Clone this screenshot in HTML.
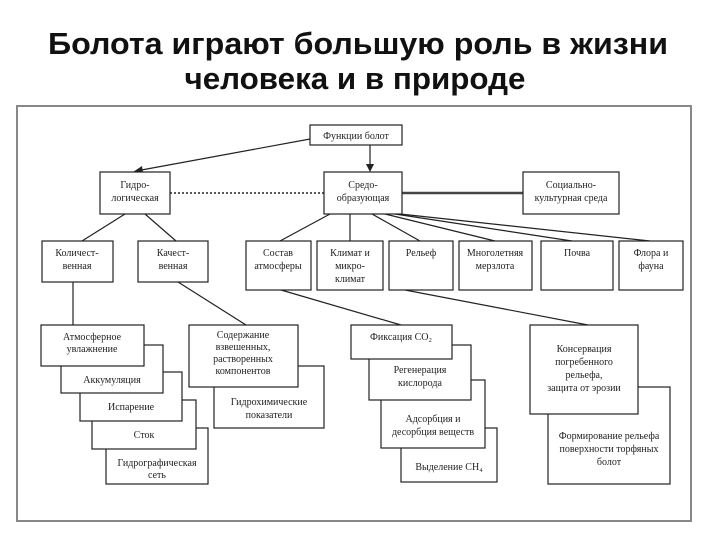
<!DOCTYPE html>
<html><head><meta charset="utf-8"><style>
html,body{margin:0;padding:0;background:#fff;width:720px;height:540px;overflow:hidden}
svg{display:block}
.t{font-family:"Liberation Sans",sans-serif;font-weight:bold;font-size:31px;fill:#111}
.b text{font-family:"Liberation Serif","Noto Serif CJK SC",serif;font-size:10px;fill:#222;text-anchor:middle}
rect{fill:#fff;stroke:#222;stroke-width:1.2}
line{stroke:#222;stroke-width:1.2}
</style></head><body>
<svg width="720" height="540" viewBox="0 0 720 540">
<text class="t" x="358" y="54" text-anchor="middle" textLength="620" lengthAdjust="spacingAndGlyphs">Болота играют большую роль в жизни</text>
<text class="t" x="355" y="89" text-anchor="middle" textLength="341" lengthAdjust="spacingAndGlyphs">человека и в природе</text>
<rect x="17" y="106" width="674" height="415" style="stroke:#888;stroke-width:2;fill:none"/>
<g class="b">
<!-- connectors -->
<line x1="310" y1="139" x2="136" y2="171"/>
<polygon points="133,172 142,166 143,173" fill="#222"/>
<line x1="370" y1="145" x2="370" y2="166"/>
<polygon points="366,164 374,164 370,172" fill="#222"/>
<line x1="170" y1="193" x2="324" y2="193" style="stroke-dasharray:2,2;stroke-width:1.5"/>
<line x1="402" y1="193" x2="523" y2="193" style="stroke-width:2.5;stroke:#444"/>
<line x1="125" y1="214" x2="82" y2="241"/>
<line x1="145" y1="214" x2="176" y2="241"/>
<line x1="330" y1="214" x2="280" y2="241"/>
<line x1="350" y1="214" x2="350" y2="241"/>
<line x1="372" y1="214" x2="420" y2="241"/>
<line x1="385" y1="214" x2="495" y2="241"/>
<line x1="395" y1="214" x2="572" y2="241"/>
<line x1="400" y1="214" x2="650" y2="241"/>
<line x1="73" y1="282" x2="73" y2="325"/>
<line x1="178" y1="282" x2="246" y2="325"/>
<line x1="281" y1="290" x2="401" y2="325"/>
<line x1="405" y1="290" x2="588" y2="325"/>
<!-- top boxes -->
<rect x="310" y="125" width="92" height="20"/><text x="356" y="139">Функции болот</text>
<rect x="100" y="172" width="70" height="42"/><text x="135" y="188">Гидро-</text><text x="135" y="201">логическая</text>
<rect x="324" y="172" width="78" height="42"/><text x="363" y="188">Средо-</text><text x="363" y="201">образующая</text>
<rect x="523" y="172" width="96" height="42"/><text x="571" y="188">Социально-</text><text x="571" y="201">культурная среда</text>
<rect x="42" y="241" width="71" height="41"/><text x="77" y="256">Количест-</text><text x="77" y="269">венная</text>
<rect x="138" y="241" width="70" height="41"/><text x="173" y="256">Качест-</text><text x="173" y="269">венная</text>
<rect x="246" y="241" width="65" height="49"/><text x="278" y="256">Состав</text><text x="278" y="269">атмосферы</text>
<rect x="317" y="241" width="66" height="49"/><text x="350" y="256">Климат и</text><text x="350" y="269">микро-</text><text x="350" y="282">климат</text>
<rect x="389" y="241" width="64" height="49"/><text x="421" y="256">Рельеф</text>
<rect x="459" y="241" width="73" height="49"/><text x="495" y="256">Многолетняя</text><text x="495" y="269">мерзлота</text>
<rect x="541" y="241" width="72" height="49"/><text x="577" y="256">Почва</text>
<rect x="619" y="241" width="64" height="49"/><text x="651" y="256">Флора и</text><text x="651" y="269">фауна</text>
<!-- left stack (back to front) -->
<rect x="106" y="428" width="102" height="56"/><text x="157" y="466">Гидрографическая</text><text x="157" y="478">сеть</text>
<rect x="92" y="400" width="104" height="49"/><text x="144" y="438">Сток</text>
<rect x="80" y="372" width="102" height="49"/><text x="131" y="410">Испарение</text>
<rect x="61" y="345" width="102" height="48"/><text x="112" y="383">Аккумуляция</text>
<rect x="41" y="325" width="103" height="41"/><text x="92" y="340">Атмосферное</text><text x="92" y="352">увлажнение</text>
<rect x="214" y="366" width="110" height="62"/><text x="269" y="405">Гидрохимические</text><text x="269" y="418">показатели</text>
<rect x="189" y="325" width="109" height="62"/><text x="243" y="338">Содержание</text><text x="243" y="350">взвешенных,</text><text x="243" y="362">растворенных</text><text x="243" y="374">компонентов</text>
<!-- middle stack -->
<rect x="401" y="428" width="96" height="54"/><text x="449" y="470">Выделение CH₄</text>
<rect x="381" y="380" width="104" height="68"/><text x="433" y="422">Адсорбция и</text><text x="433" y="435">десорбция веществ</text>
<rect x="369" y="345" width="102" height="55"/><text x="420" y="373">Регенерация</text><text x="420" y="386">кислорода</text>
<rect x="351" y="325" width="101" height="34"/><text x="401" y="340">Фиксация CO₂</text>
<!-- right stack -->
<rect x="548" y="387" width="122" height="97"/><text x="609" y="439">Формирование рельефа</text><text x="609" y="452">поверхности торфяных</text><text x="609" y="465">болот</text>
<rect x="530" y="325" width="108" height="89"/><text x="584" y="352">Консервация</text><text x="584" y="365">погребенного</text><text x="584" y="378">рельефа,</text><text x="584" y="391">защита от эрозии</text>
</g>
</svg>
</body></html>
